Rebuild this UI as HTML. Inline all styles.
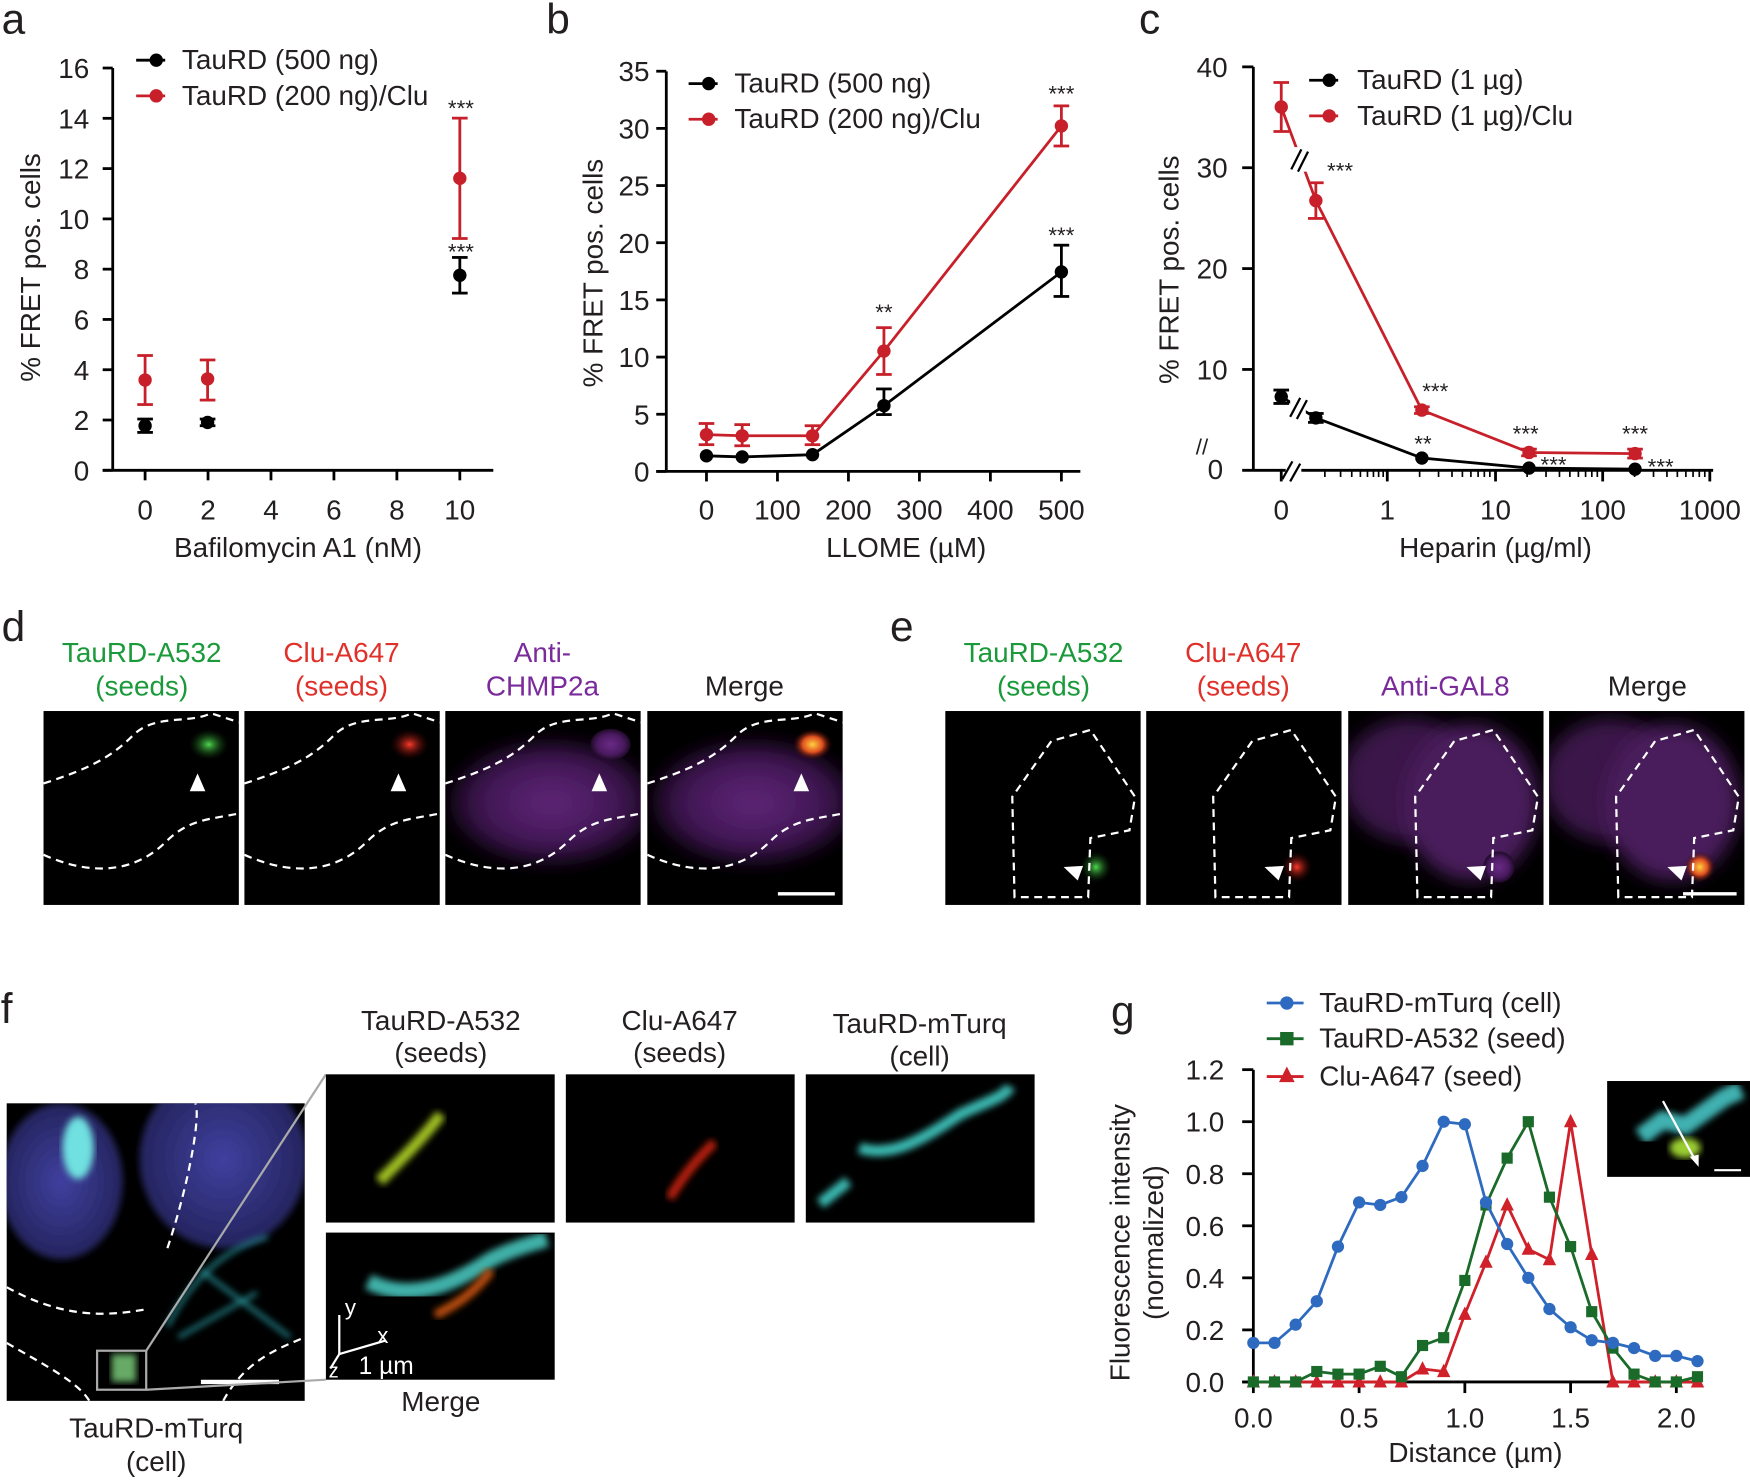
<!DOCTYPE html>
<html><head><meta charset="utf-8"><style>
html,body{margin:0;padding:0;background:#fff;}
svg{display:block;}
text{font-family:"Liberation Sans",Arial,sans-serif;}
</style></head><body>
<svg id="s" width="1750" height="1480" viewBox="0 0 1568 1328" preserveAspectRatio="none" xmlns="http://www.w3.org/2000/svg">
<defs id="defs">
<radialGradient id="mag" cx="50%" cy="50%" r="55%"><stop offset="0" stop-color="#6a2a86"/><stop offset="0.6" stop-color="#4a1a60"/><stop offset="1" stop-color="#120516"/></radialGradient>
<radialGradient id="blu" cx="50%" cy="50%" r="50%"><stop offset="0" stop-color="#4040a0"/><stop offset="1" stop-color="#24245e"/></radialGradient>
<radialGradient id="grn" cx="50%" cy="50%" r="50%"><stop offset="0" stop-color="#4fd84f"/><stop offset="1" stop-color="#0a300a" stop-opacity="0"/></radialGradient>
<radialGradient id="red" cx="50%" cy="50%" r="50%"><stop offset="0" stop-color="#ff3a2a"/><stop offset="1" stop-color="#300" stop-opacity="0"/></radialGradient>
<radialGradient id="yel" cx="50%" cy="50%" r="50%"><stop offset="0" stop-color="#ffd040"/><stop offset="0.5" stop-color="#e05020"/><stop offset="1" stop-color="#300" stop-opacity="0"/></radialGradient>
<filter id="bl"><feGaussianBlur stdDeviation="3"/></filter>
<filter id="bl8"><feGaussianBlur stdDeviation="8"/></filter>
</defs>
<g id="root" font-size="25"></g>
</svg>
<script>
const NS="http://www.w3.org/2000/svg";let R=document.getElementById('root');const ROOT=R,DEFS=document.getElementById('defs');
function el(t,a,txt){const e=document.createElementNS(NS,t);for(const k in a)e.setAttribute(k,a[k]);if(txt!==undefined)e.textContent=txt;R.appendChild(e);return e;}
function L(x1,y1,x2,y2,c,w){el('line',{x1,y1,x2,y2,stroke:c||'#000','stroke-width':w||2.5});}
function T(x,y,s,o){o=o||{};const a={x,y,'font-size':o.fs||25,'text-anchor':o.a||'middle',style:'fill:'+(o.fill||'#231f20')};if(o.rot)a.transform='rotate(-90 '+x+' '+y+')';el('text',a,s);}
function P(pts,c,w){el('polyline',{points:pts.map(p=>p.join(',')).join(' '),fill:'none',stroke:c,'stroke-width':w||2.5});}
function C(x,y,c,r){el('circle',{cx:x,cy:y,r:r||6,fill:c});}
function E(x,y1,y2,c){L(x,y1,x,y2,c,2.5);L(x-7,y1,x+7,y1,c,2.5);L(x-7,y2,x+7,y2,c,2.5);}
let cid=0;
function box(x,y,w,h){R=ROOT;
 const cp=document.createElementNS(NS,'clipPath');cp.setAttribute('id','c'+cid);const r=document.createElementNS(NS,'rect');r.setAttribute('x',x);r.setAttribute('y',y);r.setAttribute('width',w);r.setAttribute('height',h);cp.appendChild(r);DEFS.appendChild(cp);
 el('rect',{x,y,width:w,height:h,fill:'#000'});const g=el('g',{'clip-path':'url(#c'+cid+')'});cid++;R=g;}
function endbox(){R=ROOT;}
const K='#000',RD='#c8202a';
[['a',12,30],['b',500,30],['c',1030,30],['d',12,575],['e',808,575],['f',6,918],['g',1006,920]].forEach(p=>T(p[1],p[2],p[0],{fs:38}));
// ---- Panel a
L(101,61,101,423);L(92,422,442,422);
[0,2,4,6,8,10,12,14,16].forEach(v=>{let y=422-v*22.56;L(92,y,101,y);T(80,y+9,v,{a:'end'});});
[0,2,4,6,8,10].forEach(v=>{let x=130+v*28.2;L(x,422,x,431);T(x,466,v);});
T(267,500,'Bafilomycin A1 (nM)');T(36,240,'% FRET pos. cells',{rot:1});
E(130,376,388,K);C(130,382,K);E(186,376,382,K);C(186,379,K);E(412,231,263,K);C(412,247,K);
E(130,319,363,RD);C(130,341,RD);E(186,323,359,RD);C(186,340,RD);E(412,106,214,RD);C(412,160,RD);
T(413,104,'***',{fs:20});T(413,233,'***',{fs:20});
L(122,54,148,54,K);C(140,54,K);T(163,62,'TauRD (500 ng)',{a:'start'});
L(122,86,148,86,RD);C(140,86,RD);T(163,94,'TauRD (200 ng)/Clu',{a:'start'});
// ---- Panel b
L(597,64,597,424);L(588,423,968,423);
[0,5,10,15,20,25,30,35].forEach(v=>{let y=423-v*10.26;L(588,y,597,y);T(582,y+9,v,{a:'end'});});
[0,100,200,300,400,500].forEach(v=>{let x=633+v*0.636;L(x,423,x,432);T(x,466,v);});
T(812,500,'LLOME (µM)');T(540,245,'% FRET pos. cells',{rot:1});
P([[633,409],[665,410],[728,408],[792,364],[951,244]],K);
E(792,349,372,K);E(951,220,266,K);[[633,409],[665,410],[728,408],[792,364],[951,244]].forEach(p=>C(p[0],p[1],K));
P([[633,390],[665,391],[728,391],[792,315],[951,113]],RD);
E(633,380,399,RD);E(665,381,400,RD);E(728,382,399,RD);E(792,294,336,RD);E(951,95,131,RD);
[[633,390],[665,391],[728,391],[792,315],[951,113]].forEach(p=>C(p[0],p[1],RD));
T(792,287,'**',{fs:20});T(951,91,'***',{fs:20});T(951,218,'***',{fs:20});
L(617,75,643,75,K);C(635,75,K);T(658,83,'TauRD (500 ng)',{a:'start'});
L(617,107,643,107,RD);C(635,107,RD);T(658,115,'TauRD (200 ng)/Clu',{a:'start'});
// ---- Panel c
L(1123,60,1123,423);L(1113,422,1535,422);
[10,20,30,40].forEach(v=>{let y=422-v*9.05;L(1113,y,1123,y);T(1100,y+9,v,{a:'end'});});
T(1096,430,'0',{a:'end'});
T(1077,408,'//',{fs:20});
[[1148,'0'],[1243,'1'],[1340,'10'],[1436,'100'],[1532,'1000']].forEach(p=>{L(p[0],422,p[0],432);T(p[0],466,p[1]);});
for(let d=0;d<3;d++)for(let m=2;m<10;m++){let x=1243+96.3*(d+Math.log10(m));L(x,422,x,428,K,1.5);}
for(let m=2;m<10;m++){let x=1163+80*Math.log10(m);if(x<1243)L(x,422,x,428,K,1.5);}
el('rect',{x:1152,y:412,width:14,height:20,fill:'#fff'});
L(1149,430,1158,414,K,2);L(1156,432,1165,416,K,2);
T(1340,500,'Heparin (µg/ml)');T(1056,242,'% FRET pos. cells',{rot:1});
let cr=[[1148,96],[1179,180],[1274,368],[1370,406],[1465,407]],ck=[[1148,356],[1179,375],[1274,411],[1370,420],[1465,421]];
P(cr,RD);P(ck,K);
E(1148,74,118,RD);E(1179,164,196,RD);E(1274,365,371,RD);E(1370,403,409,RD);E(1465,403,411,RD);
E(1148,350,362,K);E(1179,371,379,K);
cr.forEach(p=>C(p[0],p[1],RD));ck.forEach(p=>C(p[0],p[1],K));
el('rect',{x:1157,y:132,width:14,height:22,fill:'#fff'});L(1157,152,1166,134,K,2);L(1163,154,1172,136,K,2);
el('rect',{x:1156,y:356,width:14,height:20,fill:'#fff'});L(1156,374,1165,357,K,2);L(1162,376,1171,359,K,2);
T(1189,160,'***',{fs:20,a:'start'});T(1286,358,'***',{fs:20});T(1275,405,'**',{fs:20});
T(1367,396,'***',{fs:20});T(1392,424,'***',{fs:20});T(1465,396,'***',{fs:20});T(1488,426,'***',{fs:20});
L(1173,72,1199,72,K);C(1191,72,K);T(1216,80,'TauRD (1 µg)',{a:'start'});
L(1173,104,1199,104,RD);C(1191,104,RD);T(1216,112,'TauRD (1 µg)/Clu',{a:'start'});
// ---- Panel d & e
function hdr(x,l1,l2,col){if(l2){T(x,594,l1,{fill:col});T(x,624,l2,{fill:col});}else T(x,624,l1,{fill:col});}
const G='#1a9a3a',RR='#e0302a',PU='#7a2a9a';
hdr(127,'TauRD-A532','(seeds)',G);hdr(306,'Clu-A647','(seeds)',RR);hdr(486,'Anti-','CHMP2a',PU);hdr(667,'Merge',null);
hdr(935,'TauRD-A532','(seeds)',G);hdr(1114,'Clu-A647','(seeds)',RR);hdr(1295,'Anti-GAL8',null,PU);hdr(1476,'Merge',null);
function arrow(x,y,rot){el('polygon',{points:(x)+','+(y)+' '+(x-7)+','+(y+16)+' '+(x+7)+','+(y+16),fill:'#fff',transform:'rotate('+(rot||0)+' '+x+' '+y+')'});}
[39,219,399,580].forEach((x,i)=>{box(x,638,175,174);
 if(i>=2)el('ellipse',{cx:x+95,cy:720,rx:90,ry:55,fill:'url(#mag)',filter:'url(#bl8)',opacity:0.9});
 const g=i==0?'url(#grn)':i==1?'url(#red)':i==2?'url(#mag)':'url(#yel)';
 el('ellipse',{cx:x+148,cy:668,rx:18,ry:14,fill:g});
 el('path',{d:'M'+x+',703 C'+(x+40)+',690 '+(x+60)+',680 '+(x+80)+',660 C'+(x+100)+',640 '+(x+130)+',650 '+(x+150)+',640 L'+(x+175)+',648',fill:'none',stroke:'#fff','stroke-width':2,'stroke-dasharray':'7,5'});
 el('path',{d:'M'+x+',767 C'+(x+40)+',785 '+(x+80)+',785 '+(x+110)+',755 C'+(x+130)+',735 '+(x+150)+',735 '+(x+175)+',730',fill:'none',stroke:'#fff','stroke-width':2,'stroke-dasharray':'7,5'});
 arrow(x+138,694);endbox();});
L(697,802,748,802,'#fff',3);
[847,1027,1208,1388].forEach((x,i)=>{box(x,638,175,174);
 if(i>=2){el('ellipse',{cx:x+55,cy:700,rx:60,ry:55,fill:'#3a1548',filter:'url(#bl8)'});el('ellipse',{cx:x+110,cy:720,rx:60,ry:70,fill:'#4a1a5c',filter:'url(#bl8)'});}
 const g=i==0?'url(#grn)':i==1?'url(#red)':i==2?'url(#mag)':'url(#yel)';
 el('ellipse',{cx:x+135,cy:778,rx:14,ry:14,fill:g});
 el('path',{d:'M'+(x+62)+',805 L'+(x+60)+',715 L'+(x+95)+',665 L'+(x+130)+',655 L'+(x+170)+',715 L'+(x+165)+',745 L'+(x+130)+',752 L'+(x+128)+',805 Z',fill:'none',stroke:'#fff','stroke-width':2,'stroke-dasharray':'7,5'});
 arrow(x+106,778,-70);endbox();});
L(1508,802,1556,802,'#fff',3);
// ---- Panel f
box(6,990,267,267);
el('ellipse',{cx:55,cy:1060,rx:55,ry:70,fill:'url(#blu)',filter:'url(#bl)'});
el('ellipse',{cx:200,cy:1040,rx:75,ry:80,fill:'url(#blu)',filter:'url(#bl)'});
el('ellipse',{cx:70,cy:1030,rx:14,ry:28,fill:'#6fe0e0',filter:'url(#bl)'});
el('path',{d:'M150,1190 C170,1150 200,1120 240,1110 M160,1200 L230,1160 M180,1140 L260,1200',stroke:'#2aa0a8','stroke-width':3,fill:'none',filter:'url(#bl)'});
el('rect',{x:100,y:1215,width:22,height:25,fill:'#6a6',filter:'url(#bl)'});
el('path',{d:'M6,1155 C60,1185 100,1180 130,1175 M150,1120 C170,1060 180,1000 175,990 M6,1205 C40,1225 70,1240 80,1257 M200,1257 C220,1220 250,1210 273,1200',fill:'none',stroke:'#fff','stroke-width':2,'stroke-dasharray':'7,5'});
el('rect',{x:87,y:1212,width:44,height:35,fill:'none',stroke:'#aaa','stroke-width':2});
L(180,1240,250,1240,'#fff',4);endbox();
L(131,1212,292,964,'#aaa',2);L(131,1247,292,1238,'#aaa',2);
T(140,1290,'TauRD-mTurq');T(140,1320,'(cell)');
T(395,924,'TauRD-A532');T(395,953,'(seeds)');T(609,924,'Clu-A647');T(609,953,'(seeds)');T(824,927,'TauRD-mTurq');T(824,956,'(cell)');T(395,1266,'Merge');
box(292,964,205,133);el('path',{d:'M340,1060 C360,1040 380,1020 395,1000',stroke:'#a0c020','stroke-width':10,fill:'none',filter:'url(#bl)'});endbox();
box(507,964,205,133);el('path',{d:'M600,1075 C615,1050 630,1035 640,1025',stroke:'#c02010','stroke-width':8,fill:'none',filter:'url(#bl)'});endbox();
box(722,964,205,133);el('path',{d:'M735,1080 L760,1060 M770,1030 C800,1040 830,1020 860,1000 C880,990 900,985 905,975',stroke:'#3ab8b0','stroke-width':10,fill:'none',filter:'url(#bl)'});endbox();
box(292,1106,205,132);
el('path',{d:'M330,1150 C370,1170 410,1150 440,1130 C460,1120 480,1115 490,1112',stroke:'#40b0a8','stroke-width':14,fill:'none',filter:'url(#bl)'});
el('path',{d:'M390,1180 C410,1170 425,1160 440,1140',stroke:'#c05010','stroke-width':8,fill:'none',filter:'url(#bl)'});
L(304,1215,304,1180,'#fff',2);L(304,1215,345,1203,'#fff',2);L(304,1215,296,1228,'#fff',2);
T(314,1180,'y',{fill:'#fff',fs:20});T(343,1205,'x',{fill:'#fff',fs:20});T(299,1236,'z',{fill:'#fff',fs:18});T(346,1233,'1 µm',{fill:'#fff',fs:22});
endbox();
// ---- Panel g
const gx=v=>1123+v*189.5,gy=v=>1240-v*233.5;
L(1123,960,1123,1241);L(1113,1240,1522,1240);
[0,0.2,0.4,0.6,0.8,1.0,1.2].forEach(v=>{L(1113,gy(v),1123,gy(v));T(1097,gy(v)+9,v.toFixed(1),{a:'end'});});
[0,0.5,1,1.5,2].forEach(v=>{L(gx(v),1240,gx(v),1250);T(gx(v),1281,v.toFixed(1));});
T(1322,1312,'Distance (µm)');T(1012,1115,'Fluorescence intensity',{rot:1});T(1042,1115,'(normalized)',{rot:1});
const bl=[.15,.15,.22,.31,.52,.69,.68,.71,.83,1,.99,.69,.53,.40,.28,.21,.16,.15,.13,.10,.10,.08];
const gr=[0,0,0,.04,.03,.03,.06,.02,.14,.17,.39,.68,.86,1,.71,.52,.27,.13,.03,0,0,.02];
const rd=[0,0,0,0,0,0,0,0,.05,.04,.26,.46,.68,.51,.47,1,.49,0,0,0,0,0];
const BC='#2e6bc0',GC='#1a6a2a',RC='#d0202a';
function ser(a,c,m){const pts=a.map((v,i)=>[gx(i*0.1),gy(v)]);P(pts,c,2.5);pts.forEach(p=>{if(m==0)C(p[0],p[1],c,5.5);else if(m==1)el('rect',{x:p[0]-5,y:p[1]-5,width:10,height:10,fill:c});else el('polygon',{points:p[0]+','+(p[1]-7)+' '+(p[0]-6)+','+(p[1]+5)+' '+(p[0]+6)+','+(p[1]+5),fill:c});});}
ser(rd,RC,2);ser(gr,GC,1);ser(bl,BC,0);
L(1135,900,1168,900,BC);C(1153,900,BC,6);T(1182,908,'TauRD-mTurq (cell)',{a:'start'});
L(1135,932,1168,932,GC);el('rect',{x:1147,y:926,width:12,height:12,fill:GC});T(1182,940,'TauRD-A532 (seed)',{a:'start'});
L(1135,966,1168,966,RC);el('polygon',{points:'1153,957 1146,971 1160,971',fill:RC});T(1182,974,'Clu-A647 (seed)',{a:'start'});
box(1440,970,128,86);
el('path',{d:'M1470,1020 L1490,1005 L1510,1010 L1545,985 L1560,978',stroke:'#40b0b0','stroke-width':16,fill:'none',filter:'url(#bl)'});
el('ellipse',{cx:1510,cy:1030,rx:14,ry:9,fill:'#9acd32',filter:'url(#bl)'});
L(1490,988,1520,1043,'#fff',2);el('polygon',{points:'1522,1047 1514,1038 1522,1036',fill:'#fff'});
L(1536,1050,1560,1050,'#fff',2);endbox();
</script>
</body></html>
